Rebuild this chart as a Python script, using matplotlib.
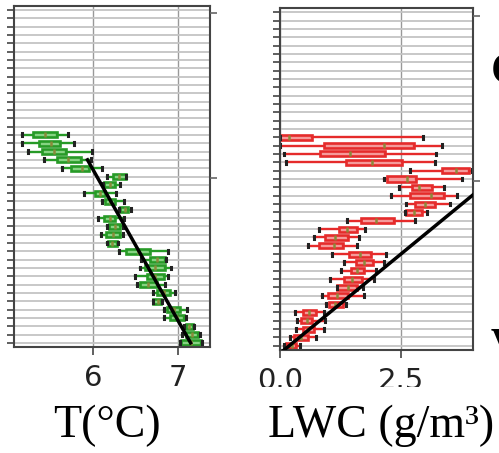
import matplotlib
matplotlib.use("Agg")
import matplotlib.pyplot as plt
from matplotlib.patches import Rectangle

# rows (bottom -> top), 26 profiles out of 41 grid levels
n_levels = 41
rows = list(range(26))

# temperature box stats per row: low whisker, q1, median, q3, high whisker
t_lo = [7.03, 7.05, 7.07, 6.84, 6.84, 6.70, 6.70, 6.52, 6.49, 6.55, 6.56, 6.30, 6.16,
        6.09, 6.16, 6.05, 6.30, 6.10, 5.89, 6.11, 6.16, 5.63, 5.41, 5.23, 5.15, 5.16]
t_q1 = [7.04, 7.09, 7.09, 6.91, 6.87, 6.71, 6.75, 6.55, 6.63, 6.61, 6.67, 6.38, 6.17,
        6.15, 6.19, 6.13, 6.32, 6.14, 6.02, 6.13, 6.23, 5.74, 5.57, 5.39, 5.36, 5.29]
t_med = [7.16, 7.165, 7.13, 6.99, 6.95, 6.76, 6.83, 6.65, 6.73, 6.73, 6.75, 6.53, 6.22,
         6.23, 6.25, 6.20, 6.37, 6.20, 6.08, 6.20, 6.30, 5.86, 5.70, 5.53, 5.50, 5.43]
t_q3 = [7.27, 7.24, 7.18, 7.07, 7.02, 6.80, 6.91, 6.75, 6.83, 6.85, 6.85, 6.67, 6.28,
        6.31, 6.31, 6.26, 6.41, 6.26, 6.14, 6.26, 6.38, 5.95, 5.85, 5.67, 5.61, 5.57]
t_hi = [7.28, 7.26, 7.19, 7.09, 7.11, 6.81, 6.96, 6.85, 6.88, 6.92, 6.86, 6.88, 6.29,
        6.35, 6.35, 6.36, 6.44, 6.36, 6.27, 6.32, 6.39, 6.10, 5.97, 5.98, 5.77, 5.70]

# liquid water content box stats per row
lwc_lo = [0.09, 0.21, 0.33, 0.35, 0.32, 0.95, 0.88, 1.18, 1.04, 1.26, 1.33, 1.07, 0.58,
          0.71, 0.81, 1.38, 2.60, 2.62, 2.31, 2.47, 2.16, 2.69, 0.12, 0.09, 0.00, 0.00]
lwc_q1 = [0.12, 0.30, 0.47, 0.43, 0.47, 1.02, 0.99, 1.19, 1.32, 1.47, 1.57, 1.43, 0.81,
          0.94, 1.23, 1.67, 2.62, 2.80, 2.69, 2.74, 2.22, 3.36, 1.36, 0.83, 0.92, 0.01]
lwc_med = [0.24, 0.44, 0.58, 0.55, 0.60, 1.15, 1.19, 1.40, 1.50, 1.60, 1.75, 1.65, 1.11,
           1.15, 1.39, 1.99, 2.78, 3.01, 3.12, 2.88, 2.64, 3.64, 1.91, 1.45, 2.15, 0.18]
lwc_q3 = [0.33, 0.57, 0.71, 0.67, 0.75, 1.30, 1.40, 1.60, 1.69, 1.74, 1.93, 1.88, 1.30,
          1.40, 1.60, 2.36, 2.95, 3.22, 3.40, 3.15, 2.81, 3.91, 2.52, 2.18, 2.78, 0.67]
lwc_hi = [0.41, 0.74, 0.92, 0.94, 0.92, 1.36, 1.74, 1.72, 1.95, 1.98, 2.15, 2.19, 1.60,
          1.64, 1.76, 2.80, 3.05, 3.53, 3.67, 3.40, 3.77, 3.98, 3.21, 3.24, 3.35, 2.97]

# fitted profiles
t_fit_x = [7.15, 5.93]
t_fit_y = [0, 22]
lwc_fit_x = [0.0, 4.2]
lwc_fit_y = [-0.9, 19.05]

t_ticks = [6, 7]
lwc_ticks = [0.0, 2.5]
lwc_ticklabels = ["0.0", "2.5"]


def box_stats(lo, q1, med, q3, hi):
    return [dict(whislo=a, q1=b, med=c, q3=d, whishi=e, fliers=[])
            for a, b, c, d, e in zip(lo, q1, med, q3, hi)]


def style_axes(ax):
    ax.set_ylim(-0.5, n_levels - 0.5)
    ax.set_yticks(range(n_levels))
    ax.set_yticklabels([])
    ax.grid(axis="y", color="#c4c4c4", lw=1.3, zorder=0)
    ax.grid(axis="x", color="#999999", lw=1.0, zorder=0)
    ax.set_axisbelow(True)
    ax.tick_params(axis="y", length=5, width=1.2, color="#444444")
    ax.tick_params(axis="x", length=6, width=1.2, color="#444444",
                   labelsize=21, labelcolor="#222222", pad=6)
    for s in ax.spines.values():
        s.set_color("#444444")
        s.set_linewidth(1.5)
    # right-hand ticks of a second altitude scale
    tw = ax.twinx()
    tw.set_ylim(-0.5, n_levels - 0.5)
    tw.set_yticks([19.8, 39.6])
    tw.set_yticklabels([])
    tw.tick_params(axis="y", length=5, width=1.2, color="#666666")
    for s in tw.spines.values():
        s.set_visible(False)


def draw_boxes(ax, stats, edge, face):
    ax.bxp(stats, positions=rows, orientation="horizontal", widths=0.6,
           patch_artist=True, manage_ticks=False, capwidths=0.35,
           boxprops=dict(facecolor=face, edgecolor=edge, lw=1.9),
           whiskerprops=dict(color=edge, lw=1.7),
           capprops=dict(color="#222222", lw=2.2),
           medianprops=dict(color="#8a8a3a", lw=1.8))


fig = plt.figure(figsize=(4.99, 4.53), dpi=100)

ax1 = fig.add_axes([14 / 499, 106 / 453, 196 / 499, 341 / 453])
style_axes(ax1)
draw_boxes(ax1, box_stats(t_lo, t_q1, t_med, t_q3, t_hi), "#279a27", "#86d382")
ax1.plot(t_fit_x, t_fit_y, color="black", lw=2.5, zorder=4)
ax1.set_xlim(5.06, 7.38)
ax1.set_xticks(t_ticks)

ax2 = fig.add_axes([280 / 499, 103 / 453, 193 / 499, 342 / 453])
style_axes(ax2)
draw_boxes(ax2, box_stats(lwc_lo, lwc_q1, lwc_med, lwc_q3, lwc_hi), "#e52b2b", "#f59a9a")
ax2.plot(lwc_fit_x, lwc_fit_y, color="black", lw=2.5, zorder=4)
ax2.set_xlim(0, 4.0)
ax2.set_xticks(lwc_ticks)
ax2.set_xticklabels(lwc_ticklabels)

# label strip pasted over the lower part of the right tick labels
fig.add_artist(Rectangle((0.5, 0), 0.5, 66 / 453, transform=fig.transFigure,
                         facecolor="white", edgecolor="none", zorder=5))

serif = ["Liberation Serif", "DejaVu Serif"]
fig.text(107 / 499, 16 / 453, "T(°C)", family=serif, fontsize=33,
         ha="center", va="baseline", zorder=6)
fig.text(381 / 499, 16 / 453, "LWC (g/m³)", family=serif, fontsize=33,
         ha="center", va="baseline", zorder=6)
# neighbouring panel text, cut by the figure edge as in the source
fig.text(491 / 499, 380 / 453, "C", family=serif, fontsize=34, fontweight="bold",
         ha="left", va="center", zorder=6)
fig.text(491 / 499, 108 / 453, "V", family=serif, fontsize=28, fontweight="bold",
         ha="left", va="center", zorder=6)

fig.savefig("out.png", dpi=100)
